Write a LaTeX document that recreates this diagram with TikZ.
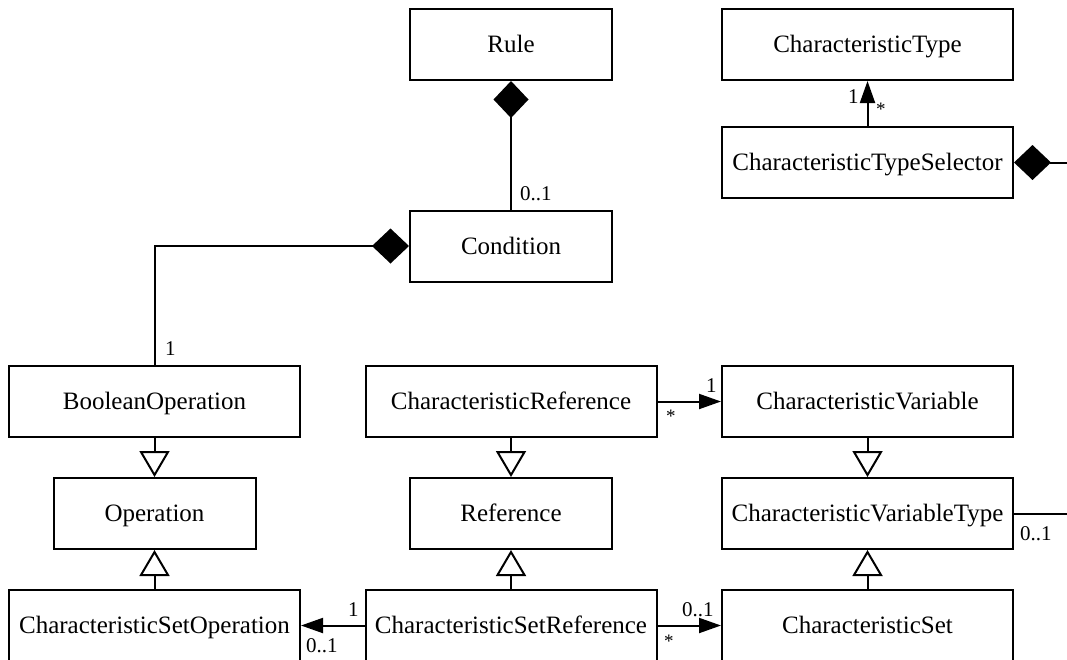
\documentclass[tikz,border=0pt]{standalone}
\usepackage{fontspec}
\setmainfont{Liberation Serif}
\usetikzlibrary{arrows.meta}
\begin{document}
\begin{tikzpicture}[x=1pt,y=-1pt,
  cls/.style={draw, line width=2pt, minimum height=71pt, inner sep=0pt, text height=18pt, text depth=2pt, font=\fontsize{25}{30}\selectfont},
  wide/.style={cls, minimum width=291pt},
  narrow/.style={cls, minimum width=202pt},
  lbl/.style={font=\fontsize{21}{24}\selectfont, inner sep=0pt},
  star/.style={font=\fontsize{19}{22}\selectfont, inner sep=0pt, anchor=north west},
  conn/.style={line width=2pt},
  inh/.style={conn, -{Triangle[open, length=26pt, width=30pt, fill=white, line width=2pt]}},
  nav/.style={conn, -{Triangle[length=22pt, width=15pt]}},
  comp/.style={conn, {Diamond[length=37pt, width=35pt]}-},
]
\clip (0,0) rectangle (1067,659);

\node[narrow] (rule)  at (511,44.5)  {Rule};
\node[narrow] (cond)  at (511,246)   {Condition};
\node[wide]   (ctype) at (867.5,44.5)  {CharacteristicType};
\node[wide]   (ctsel) at (867.5,162.5) {CharacteristicTypeSelector};
\node[wide]   (bool)  at (154.5,401.5) {BooleanOperation};
\node[wide]   (cref)  at (511,401.5)   {CharacteristicReference};
\node[wide]   (cvar)  at (867.5,401.5) {CharacteristicVariable};
\node[narrow] (op)    at (154.5,513.5) {Operation};
\node[narrow] (ref)   at (511,513.5)   {Reference};
\node[wide]   (cvt)   at (867.5,513.5) {CharacteristicVariableType};
\node[wide]   (csop)  at (154.5,625.5) {CharacteristicSetOperation};
\node[wide]   (csref) at (511,625.5)   {CharacteristicSetReference};
\node[wide]   (cset)  at (867.5,625.5) {CharacteristicSet};

\coordinate (ctselR) at (1090,162.5);
\coordinate (cvtR)   at (1090,513.5);

% compositions
\draw[comp] (rule.south) -- (cond.north);
\draw[comp] (cond.west) -| (bool.north);
\draw[comp] (ctsel.east) -- (ctselR);

% navigable associations
\draw[nav] (ctsel.north) -- (ctype.south);
\draw[nav] (cref.east) -- (cvar.west);
\draw[nav] (csref.west) -- (csop.east);
\draw[nav] (csref.east) -- (cset.west);
\draw[conn] (cvt.east) -- (cvtR);

% generalisations
\draw[inh] (bool.south) -- (op.north);
\draw[inh] (csop.north) -- (op.south);
\draw[inh] (cref.south) -- (ref.north);
\draw[inh] (csref.north) -- (ref.south);
\draw[inh] (cvar.south) -- (cvt.north);
\draw[inh] (cset.north) -- (cvt.south);

% multiplicities
\node[lbl, anchor=base west] (m1) at (520,200) {0..1};
\node[lbl, anchor=base west] (m2) at (165,355) {1};
\node[lbl, anchor=base west] (m3) at (848,103) {1};
\node[star] (m4) at (876,103) {*};
\node[lbl, anchor=base west] (m5) at (706,392) {1};
\node[star] (m6) at (666,410) {*};
\node[lbl, anchor=base west] (m7) at (348,616) {1};
\node[lbl, anchor=base west] (m8) at (306,652) {0..1};
\node[lbl, anchor=base west] (m9) at (682,616) {0..1};
\node[star] (m10) at (664,635) {*};
\node[lbl, anchor=base west] (m11) at (1020,540) {0..1};
\end{tikzpicture}
\end{document}
